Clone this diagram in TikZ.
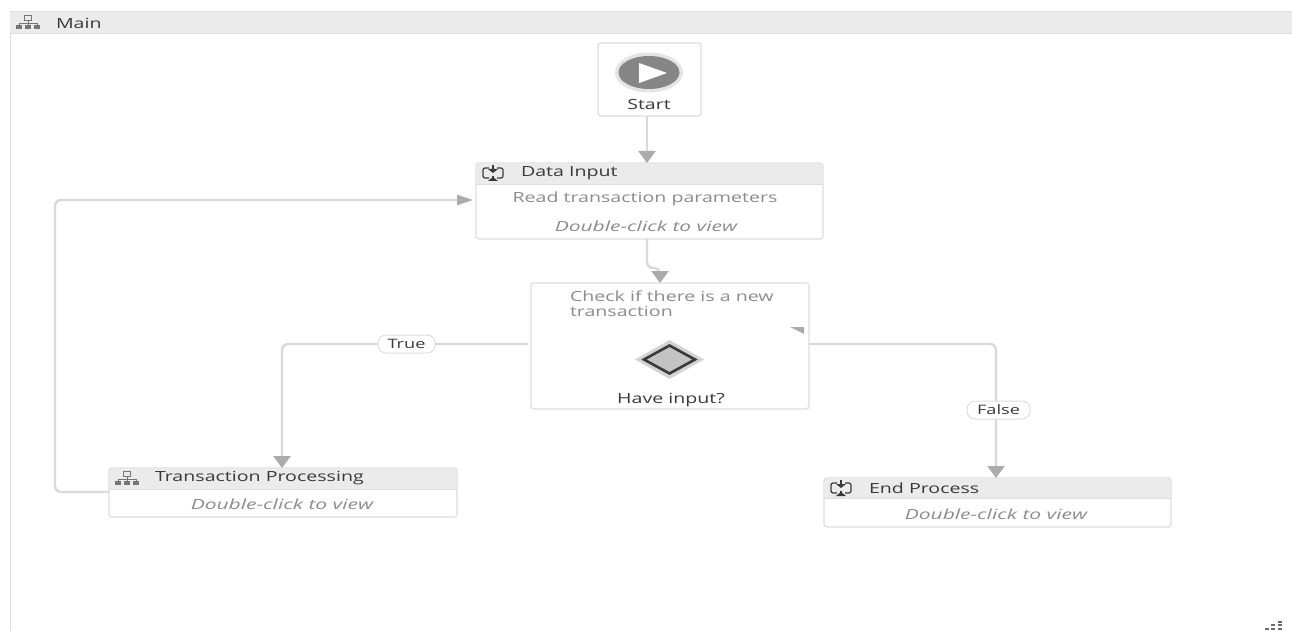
\documentclass[tikz,border=0pt]{standalone}
\usepackage{fontspec}
\setmainfont[FakeStretch=1.4,ItalicFeatures={FakeStretch=1.5}]{Open Sans}
\usetikzlibrary{positioning,arrows.meta,calc}
\definecolor{lineColor}{HTML}{D9D9D9}
\definecolor{tipColor}{HTML}{ABABAB}
\definecolor{boxColor}{HTML}{DEDEDE}
\definecolor{headColor}{HTML}{EBEBEB}
\definecolor{titleColor}{HTML}{3A3A3A}
\definecolor{noteColor}{HTML}{8C8C8C}
\tikzstyle{canvas} = [x = 1pt, y = -1pt, every node/.style={inner sep=0, outer sep=0}]
\tikzstyle{boxStyle} = [draw=boxColor, line width=1.3pt, fill=white, rounded corners=3pt]
\tikzstyle{flowLine} = [draw=lineColor, line width=2.4pt, rounded corners=6pt, -{Triangle[length=12pt,width=17pt,color=tipColor]}]
\tikzstyle{sideLine} = [draw=lineColor, line width=2.4pt, rounded corners=6pt, -{Triangle[length=16pt,width=10pt,color=tipColor]}, shorten >=3pt]
\tikzstyle{titleText} = [font=\fontsize{14}{17}\selectfont, text=titleColor, anchor=west]
\tikzstyle{noteText} = [font=\fontsize{14}{15}\selectfont, text=noteColor]
\tikzstyle{viewText} = [font=\fontsize{14}{17}\selectfont\itshape, text=noteColor]
\tikzstyle{pillStyle} = [draw=boxColor, line width=1pt, fill=white, rounded corners=8pt, font=\fontsize{13}{16}\selectfont, text=titleColor, minimum height=18pt]
\newcommand{\treeIcon}[2]{
  \begin{scope}[shift={(#1,#2)}, draw=titleColor!70, line width=.9pt]
    \draw (-3.5,-7) rectangle (3.5,-2);
    \draw (0,-2) -- (0,1) (-9,3) -- (-9,1) -- (9,1) -- (9,3) (0,1) -- (0,3);
    \foreach \col in {-9,0,9} {
      \fill [titleColor!70] (\col-3,3) rectangle (\col+3,7);
    }
  \end{scope}
}
\newcommand{\flowIcon}[2]{
  \begin{scope}[shift={(#1,#2)}, draw=titleColor, line width=1.2pt]
    \draw [rounded corners=2pt] (-4,-5) -- (-10,-5) -- (-10,5) -- (-4,5) (4,-5) -- (10,-5) -- (10,5) -- (4,5);
    \draw (0,-8) -- (0,-3) (0,8) -- (0,3);
    \fill [titleColor] (-5,-4) -- (5,-4) -- (0,0) -- cycle;
    \fill [titleColor] (-5,8) -- (5,8) -- (0,4) -- cycle;
  \end{scope}
}
\begin{document}
\begin{tikzpicture}[canvas]
  \useasboundingbox (0,0) rectangle (1292,631);
  % panel
  \fill [white] (0,0) rectangle (1292,631);
  \draw [boxColor, line width=1pt] (10,12) -- (10,631);
  \fill [headColor] (10,12) rectangle (1292,33);
  \draw [boxColor, line width=1pt] (10,12) -- (1292,12);
  \draw [boxColor, line width=.8pt] (10,33) -- (1292,33);
  \treeIcon{28}{22}
  \node [titleText] (mainTitle) at (56,23) {Main};
  % boxes
  \node [boxStyle, minimum width=103pt, minimum height=73pt] (start) at (649.5,79.5) {};
  \node [boxStyle, minimum width=347pt, minimum height=76pt] (dataInput) at (649.5,201) {};
  \node [boxStyle, minimum width=278pt, minimum height=126pt] (decision) at (670,346) {};
  \node [boxStyle, minimum width=348pt, minimum height=49pt] (processing) at (283,492.5) {};
  \node [boxStyle, minimum width=347pt, minimum height=49pt] (endProcess) at (997.5,502.5) {};
  % headers
  \fill [headColor] (476.6,163.6) rectangle (822.4,184);
  \draw [boxColor, line width=.8pt] (476,184) -- (823,184);
  \fill [headColor] (109.6,468.6) rectangle (456.4,489);
  \draw [boxColor, line width=.8pt] (109,489) -- (457,489);
  \fill [headColor] (824.6,478.6) rectangle (1170.4,498);
  \draw [boxColor, line width=.8pt] (824,498) -- (1171,498);
  % start
  \fill [lineColor!70] (649,72.5) ellipse (34 and 20);
  \fill [gray!95] (649,72.5) ellipse (30.5 and 16.5);
  \fill [white] (639,63) -- (667,73) -- (639,83) -- cycle;
  \node [titleText, anchor=center] (startText) at (649,105) {Start};
  % data input
  \flowIcon{493}{173}
  \node [titleText] (dataTitle) at (521,173) {Data Input};
  \node [noteText] (dataNote) at (645,199) {Read transaction parameters};
  \node [viewText] (dataView) at (646,226) {Double-click to view};
  % decision
  \node [noteText, anchor=north west, align=left] (checkNote) at (570,291) {Check if there is a new\\transaction};
  \fill [headColor!90!black] (635,359.5) -- (669.5,340) -- (704,359.5) -- (669.5,379) -- cycle;
  \filldraw [fill=lineColor!90!black, draw=titleColor, line width=2.6pt] (644,359.5) -- (669.5,345.5) -- (695,359.5) -- (669.5,373.5) -- cycle;
  \fill [tipColor] (790,327) -- (804,327) -- (804,334) -- cycle;
  \node [titleText, anchor=center] (decisionText) at (671,400) {Have input?};
  % processing
  \treeIcon{127}{478}
  \node [titleText] (processingTitle) at (155,478) {Transaction Processing};
  \node [viewText] (processingView) at (282,504) {Double-click to view};
  % end process
  \flowIcon{841}{488}
  \node [titleText] (endTitle) at (869,488) {End Process};
  \node [viewText] (endView) at (996,514) {Double-click to view};
  % connectors
  \draw [flowLine] ([xshift=-2.5pt]start.south) -- ([xshift=-2.5pt]dataInput.north);
  \draw [flowLine] ([xshift=-2.5pt]dataInput.south) -- ++(0,29) -- ++(13,0) -- ([xshift=-10pt]decision.north);
  \draw [flowLine] ([xshift=-3pt,yshift=2pt]decision.west) -| ([xshift=-1pt]processing.north);
  \draw [flowLine] ([yshift=2pt]decision.east) -| ([xshift=-1.5pt]endProcess.north);
  \draw [sideLine] ([yshift=.5pt]processing.west) -- ++(-54,0) |- ([yshift=1pt]dataInput.west);
  % labels
  \node [pillStyle, minimum width=57pt] (trueLabel) at (406.5,344) {True};
  \node [pillStyle, minimum width=63pt] (falseLabel) at (998.5,410) {False};
  % grip
  \foreach \col/\row in {1267/629,1273/629,1280/629,1273/625,1280/625,1280/622} {
    \fill [titleColor!75] (\col-1.6,\row-1.2) rectangle (\col+1.6,\row+1.2);
  }
\end{tikzpicture}
\end{document}
